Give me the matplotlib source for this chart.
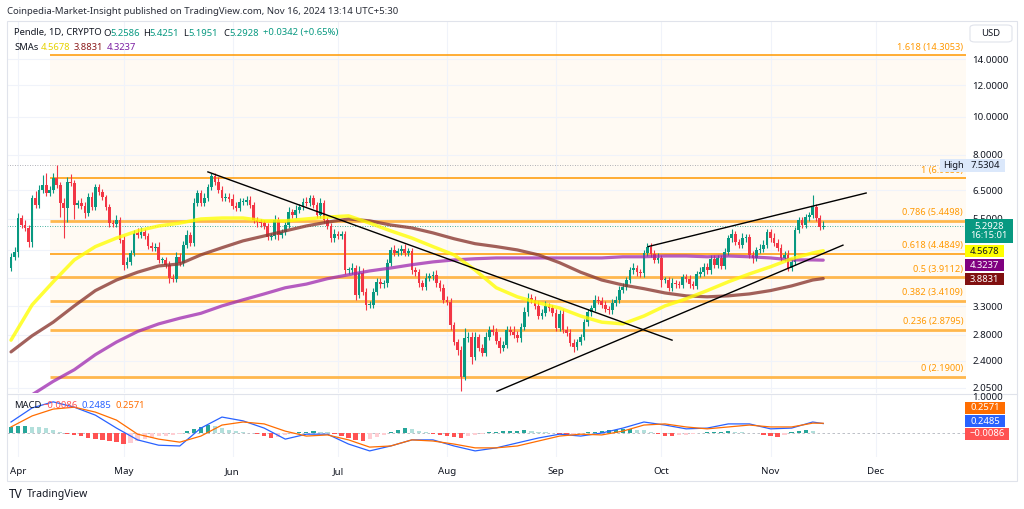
import datetime as dt
import numpy as np
import matplotlib
matplotlib.use("Agg")
import matplotlib.pyplot as plt
from matplotlib.patches import Rectangle, FancyBboxPatch
from matplotlib.ticker import FixedLocator, NullLocator, FixedFormatter

plt.rcParams['font.family'] = ['Noto Sans', 'DejaVu Sans']

W, H = 1024, 509

# ---- data ----
start = dt.date(2024, 3, 30)
first_open = 4.13
closes = [
    4.41, 4.54, 5.53, 5.31, 5.22, 4.81, 6.22, 5.97, 6.52, 6.71,
    6.40, 6.52, 6.99, 6.71, 6.04, 5.87, 6.83, 6.79, 5.97, 6.04,
    5.94, 5.70, 6.26, 5.90, 6.63, 6.44, 6.26, 5.90, 5.37, 5.34,
    5.47, 4.87, 4.21, 4.28, 4.51, 5.07, 5.01, 5.10, 4.98, 4.70,
    4.65, 4.68, 4.33, 4.33, 4.21, 3.90, 3.88, 4.41, 4.26, 4.73,
    5.01, 4.79, 6.04, 6.40, 6.04, 6.22, 6.63, 7.07, 6.83, 6.52,
    6.22, 6.26, 6.19, 5.94, 5.87, 6.08, 6.08, 6.15, 5.97, 5.47,
    5.40, 5.37, 5.28, 4.95, 4.98, 5.47, 5.01, 5.10, 5.31, 5.73,
    5.63, 5.80, 5.90, 6.08, 6.04, 6.22, 5.97, 5.63, 6.04, 5.47,
    5.28, 4.92, 5.04, 4.98, 5.04, 4.08, 4.08, 4.13, 3.53, 4.01,
    3.60, 3.33, 3.33, 3.60, 3.81, 3.76, 3.78, 4.26, 4.59, 4.51,
    4.56, 4.62, 4.51, 4.56, 4.08, 4.03, 3.78, 3.70, 3.90, 3.94,
    3.97, 3.78, 3.68, 3.43, 3.39, 2.96, 2.68, 2.56, 2.19, 2.74,
    2.76, 2.46, 2.76, 2.59, 2.52, 2.76, 2.88, 2.85, 2.70, 2.59,
    2.64, 2.88, 2.85, 2.80, 2.74, 2.93, 3.19, 3.47, 3.43, 3.31,
    3.12, 3.18, 3.31, 3.27, 3.18, 2.91, 3.16, 2.88, 2.83, 2.67,
    2.61, 2.68, 2.76, 3.01, 3.19, 3.27, 3.43, 3.41, 3.33, 3.25,
    3.23, 3.37, 3.43, 3.64, 3.70, 3.85, 4.08, 4.13, 4.03, 4.01,
    4.51, 4.68, 4.49, 4.33, 4.38, 3.85, 3.85, 3.68, 3.78, 3.76,
    3.74, 3.92, 3.88, 3.76, 3.72, 3.99, 4.03, 4.16, 4.08, 4.36,
    4.21, 4.38, 4.18, 4.54, 4.92, 5.04, 4.81, 4.73, 4.92, 4.95,
    4.46, 4.38, 4.59, 4.62, 4.73, 5.10, 4.92, 4.79, 4.65, 4.38,
    4.46, 4.13, 4.28, 5.16, 5.47, 5.31, 5.56, 5.63, 5.90, 5.53,
    5.2586, 5.2928,
]
# wick lengths in percent beyond the candle body
wick_hi = [
    2, 3, 3, 2, 3, 2, 2, 4, 3, 6, 7, 2, 3, 8, 2, 3, 3, 5, 2, 2,
    3, 2, 2, 3, 2, 2, 2, 1, 2, 2, 3, 2, 2, 3, 2, 2, 3, 3, 2, 2,
    2, 2, 3, 2, 2, 2, 2, 3, 2, 2, 3, 2, 3, 2, 2, 3, 2, 2, 2, 3,
    2, 2, 2, 3, 2, 2, 2, 2, 2, 2, 2, 2, 2, 2, 2, 3, 2, 2, 2, 3,
    2, 3, 2, 2, 3, 2, 2, 2, 3, 2, 2, 2, 3, 2, 2, 2, 2, 3, 2, 4,
    3, 2, 2, 2, 2, 2, 2, 2, 2, 3, 2, 2, 3, 2, 2, 2, 2, 2, 3, 2,
    2, 3, 2, 2, 2, 2, 2, 2, 2, 6, 3, 3, 3, 2, 2, 3, 2, 3, 2, 2,
    2, 2, 2, 3, 2, 2, 3, 3, 2, 2, 3, 2, 3, 2, 2, 2, 2, 3, 2, 2,
    2, 2, 2, 2, 2, 2, 3, 2, 2, 2, 2, 2, 2, 2, 2, 2, 2, 3, 2, 2,
    2, 2, 2, 2, 3, 2, 2, 2, 3, 2, 2, 2, 2, 2, 2, 2, 3, 2, 2, 2,
    2, 2, 2, 2, 2, 3, 2, 2, 3, 2, 2, 2, 2, 3, 3, 2, 2, 3, 2, 2,
    2, 3, 2, 2, 2, 2, 2, 2, 7, 2, 2, 2.5,
]
wick_lo = [
    2, 2, 3, 2, 2, 3, 3, 2, 2, 2, 2, 2, 2, 2, 8, 16, 8, 2, 8, 2,
    2, 3, 2, 2, 2, 2, 2, 2, 2, 2, 2, 2, 3, 2, 2, 2, 2, 2, 2, 2,
    2, 2, 2, 2, 2, 3, 2, 2, 2, 2, 2, 2, 2, 2, 2, 2, 2, 2, 2, 2,
    2, 2, 2, 2, 2, 2, 2, 2, 2, 2, 3, 2, 2, 2, 2, 2, 3, 2, 2, 2,
    2, 2, 2, 2, 2, 2, 2, 2, 2, 2, 2, 2, 2, 2, 2, 2, 2, 2, 3, 2,
    2, 3, 2, 2, 2, 2, 2, 2, 2, 2, 2, 2, 2, 2, 2, 2, 2, 2, 2, 2,
    2, 2, 2, 2, 2, 3, 2, 3, 8, 2, 2, 4, 2, 2, 2, 2, 2, 2, 2, 3,
    2, 2, 2, 2, 2, 2, 2, 2, 2, 2, 2, 2, 2, 2, 2, 2, 2, 2, 2, 2,
    3, 2, 2, 2, 2, 2, 2, 2, 2, 2, 2, 2, 2, 2, 2, 2, 2, 2, 2, 2,
    2, 2, 2, 2, 2, 4, 2, 2, 2, 2, 2, 2, 2, 2, 2, 2, 2, 2, 2, 2,
    2, 2, 2, 2, 2, 2, 2, 2, 2, 2, 2, 3, 2, 2, 2, 2, 2, 2, 2, 2,
    2, 2, 2, 2, 2, 2, 2, 2, 2, 2, 2, 1.2,
]

# moving averages, every 6th day
sma_days = list(range(0, 229, 6)) + [231]
sma_yellow = [2.71, 3.33, 3.81, 4.33, 4.68, 4.92, 5.13, 5.28, 5.37, 5.50,
              5.53, 5.53, 5.44, 5.44, 5.50, 5.56, 5.60, 5.37, 5.13, 4.92,
              4.68, 4.46, 4.08, 3.68, 3.49, 3.37, 3.27, 3.12, 3.01, 2.98,
              3.12, 3.31, 3.45, 3.62, 3.81, 3.99, 4.16, 4.36, 4.51, 4.5678]
sma_brown = [2.53, 2.78, 3.01, 3.31, 3.62, 3.85, 4.03, 4.18, 4.23, 4.46,
             4.65, 4.84, 4.98, 5.13, 5.28, 5.40, 5.50, 5.44, 5.31, 5.22,
             5.07, 4.90, 4.76, 4.68, 4.59, 4.46, 4.26, 4.03, 3.85, 3.74,
             3.66, 3.57, 3.51, 3.49, 3.51, 3.55, 3.62, 3.72, 3.85, 3.8831]
sma_purple = [1.84, 1.97, 2.13, 2.28, 2.49, 2.68, 2.85, 2.98, 3.08, 3.17,
              3.31, 3.43, 3.55, 3.68, 3.76, 3.88, 3.97, 4.06, 4.13, 4.21,
              4.28, 4.33, 4.36, 4.38, 4.38, 4.38, 4.38, 4.38, 4.38, 4.41,
              4.41, 4.43, 4.43, 4.41, 4.43, 4.41, 4.38, 4.33, 4.33, 4.3237]

macd_line = [0.29, 0.66, 0.82, 0.68, 0.47, 0.13, -0.18, -0.32, -0.34, 0.13,
             0.42, 0.32, 0.13, -0.16, -0.03, -0.03, -0.29, -0.47, -0.34, -0.18,
             -0.18, -0.34, -0.47, -0.39, -0.26, -0.13, -0.03, -0.08, 0.0, 0.13,
             0.29, 0.21, 0.11, 0.13, 0.24, 0.24, 0.11, 0.13, 0.29, 0.2485]
signal_line = [0.16, 0.45, 0.63, 0.68, 0.55, 0.34, -0.03, -0.16, -0.24, -0.08,
               0.21, 0.29, 0.24, 0.05, -0.08, -0.05, -0.18, -0.37, -0.34, -0.18,
               -0.21, -0.29, -0.39, -0.39, -0.34, -0.21, -0.08, -0.03, -0.05, 0.05,
               0.21, 0.24, 0.16, 0.11, 0.16, 0.21, 0.16, 0.16, 0.26, 0.2571]
hist_days = list(range(0, 230, 2)) + [231]
macd_hist = [0.15, 0.18, 0.18, 0.17, 0.16, 0.12, 0.07, 0.03, -0.02, -0.05,
             -0.09, -0.12, -0.15, -0.18, -0.20, -0.24, -0.28, -0.25, -0.20, -0.16,
             -0.12, -0.09, -0.07, -0.05, -0.02, 0.05, 0.10, 0.15, 0.20, 0.18,
             0.13, 0.09, 0.05, 0.03, 0.01, -0.03, -0.07, -0.12, -0.10, -0.06,
             -0.03, 0.02, 0.04, 0.05, 0.04, 0.02, -0.03, -0.08, -0.13, -0.18,
             -0.20, -0.16, -0.10, -0.04, 0.03, 0.08, 0.12, 0.10, 0.06, 0.02,
             -0.02, -0.05, -0.08, -0.10, -0.13, -0.08, -0.05, -0.02, 0.02, 0.04,
             0.05, 0.05, 0.06, 0.07, 0.06, 0.04, 0.03, 0.01, -0.02, -0.04,
             -0.03, -0.01, 0.02, 0.04, 0.06, 0.08, 0.09, 0.10, 0.10, 0.09,
             0.07, 0.03, -0.03, -0.07, -0.08, -0.06, -0.04, -0.02, 0.01, 0.02,
             0.03, 0.04, 0.05, 0.04, 0.02, 0.01, -0.01, -0.04, -0.08, -0.10,
             -0.05, 0.02, 0.06, 0.08, 0.05, -0.0086]

fib_ratios = [1.618, 1, 0.786, 0.618, 0.5, 0.382, 0.236, 0]
fib_prices = [14.3053, 6.9850, 5.4498, 4.4849, 3.9112, 3.4109, 2.8795, 2.1900]
fib_start = 11

# trendlines: (day, price) pairs
trend_lines = [((56.0, 7.24), (188.0, 2.71)),
               ((138.2, 2.01), (236.6, 4.72)),
               ((181.2, 4.68), (243.2, 6.40))]

price_ticks = [14.0, 12.0, 10.0, 8.0, 6.5, 5.5, 4.6, 3.9, 3.3, 2.8, 2.4, 2.05]
hidden_ticks = [4.6, 3.9]   # covered by the value labels in the original
month_names = ['Apr', 'May', 'Jun', 'Jul', 'Aug', 'Sep', 'Oct', 'Nov', 'Dec']
month_days = [(dt.date(2024, m, 1) - start).days for m in range(4, 13)]

last_price = 5.2928
period_high = 7.5304

# ---- style ----
up_col = '#089981'
dn_col = '#f23645'
txt_col = '#131722'
grid_col = '#f0f3fa'
fib_dark = '#ff9800'
fib_light = '#ffb74d'

fig = plt.figure(figsize=(W / 100, H / 100), dpi=100)
fig.patch.set_facecolor('white')


def fx(px):
    return px / W


def fy(py):
    return 1 - py / H


ax = fig.add_axes([fx(7), fy(393), (966 - 7) / W, (393 - 22) / H])
axm = fig.add_axes([fx(7), fy(457), (966 - 7) / W, (457 - 395) / H], sharex=ax)
xmin, xmax = -1.14, 271.6

# fib zones and levels
for k in range(len(fib_prices) - 1):
    ax.fill_between([fib_start, xmax], fib_prices[k + 1], fib_prices[k],
                    color='#fffaf3', lw=0, zorder=0)
for r, p in zip(fib_ratios, fib_prices):
    thin = r in (1.618, 1, 0.618)
    ax.plot([fib_start, xmax], [p, p], color=fib_dark if thin else fib_light,
            lw=1.1 if thin else 2.0, zorder=1, solid_capstyle='butt')
    ax.annotate('{:g} ({:.4f})'.format(r, p), xy=(1, p),
                xycoords=('axes fraction', 'data'), xytext=(-2, 2.5),
                textcoords='offset points', ha='right', va='bottom',
                fontsize=6.6, color=fib_dark, zorder=4)

# grid
for d in month_days:
    ax.axvline(d, color=grid_col, lw=0.8, zorder=0.5)
    axm.axvline(d, color=grid_col, lw=0.8, zorder=0.5)
for t in price_ticks:
    ax.axhline(t, color=grid_col, lw=0.8, zorder=0.5)

ax.axhline(period_high, color='#9598a1', lw=0.6, ls=(0, (1, 2)), zorder=1.5)
ax.axhline(last_price, color=up_col, lw=0.6, ls=(0, (1, 2)), zorder=1.5)

# candles
n = len(closes)
opens = np.array([first_open] + closes[:-1])
cl = np.array(closes)
top = np.maximum(opens, cl)
bot = np.minimum(opens, cl)
hi = top * (1 + np.array(wick_hi) / 100)
lo = bot * (1 - np.array(wick_lo) / 100)
cols = [up_col if c >= o else dn_col for o, c in zip(opens, cl)]
x = np.arange(n)
ax.vlines(x, lo, hi, colors=cols, lw=0.8, zorder=3)
ax.bar(x, np.maximum(top - bot, top * 0.004), bottom=bot, width=0.76,
       color=cols, lw=0, zorder=3)

# SMAs
ax.plot(sma_days, sma_purple, color='#9c27b0', lw=2.3, alpha=0.75, zorder=4,
        solid_capstyle='round')
ax.plot(sma_days, sma_brown, color='#8b3a33', lw=2.3, alpha=0.8, zorder=4,
        solid_capstyle='round')
ax.plot(sma_days, sma_yellow, color='#ffff00', lw=2.5, alpha=0.78, zorder=4,
        solid_capstyle='round')

for (d0, p0), (d1, p1) in trend_lines:
    ax.plot([d0, d1], [p0, p1], color='black', lw=1.0, zorder=5)

ax.set_yscale('log')
ax.set_ylim(1.99, 17.38)
ax.set_xlim(xmin, xmax)
ax.yaxis.set_major_locator(FixedLocator(price_ticks))
ax.yaxis.set_major_formatter(FixedFormatter(
    ['' if t in hidden_ticks else '{:.4f}'.format(t) for t in price_ticks]))
ax.yaxis.set_minor_locator(NullLocator())
ax.yaxis.tick_right()
ax.tick_params(axis='y', length=0, pad=4.5, labelsize=7, labelcolor=txt_col)
ax.tick_params(axis='x', length=0, labelbottom=False)
for s in ax.spines.values():
    s.set_visible(False)

# MACD pane
hcols = []
prev = 0
for h in macd_hist:
    if h >= 0:
        hcols.append('#26a69a' if h >= prev else '#b2dfdb')
    else:
        hcols.append('#ff5252' if h <= prev else '#ffcdd2')
    prev = h
axm.bar(hist_days, macd_hist, width=1.2, color=hcols, lw=0, zorder=2)
axm.axhline(0, color='#b2b5be', lw=0.6, ls=(0, (3, 3)), zorder=1)
axm.plot(sma_days, macd_line, color='#2962ff', lw=0.9, zorder=3)
axm.plot(sma_days, signal_line, color='#ff6d00', lw=0.9, zorder=3)
axm.set_ylim(-0.63, 1.0)
axm.set_yticks([])
axm.set_xticks(month_days)
axm.set_xticklabels(month_names)
axm.tick_params(axis='x', length=0, pad=7, labelsize=7, labelcolor=txt_col)
for s in axm.spines.values():
    s.set_visible(False)
axm.set_xlim(xmin, xmax)

# frame and separators
fig.add_artist(Rectangle((fx(7), fy(481)), (1017 - 7) / W, (481 - 21) / H,
                         transform=fig.transFigure, fill=False, ec='#e0e3eb', lw=0.8))
fig.add_artist(plt.Line2D([fx(7), fx(1017)], [fy(394), fy(394)],
                          transform=fig.transFigure, color='#e0e3eb', lw=0.8))


def fig_box(x0, y0, x1, y1, fc, text, tc, fs=6.8):
    fig.add_artist(Rectangle((fx(x0), fy(y1)), (x1 - x0) / W, (y1 - y0) / H,
                             transform=fig.transFigure, fc=fc, ec='none', zorder=5))
    fig.text(fx((x0 + x1) / 2), fy((y0 + y1) / 2), text, ha='center', va='center',
             color=tc, fontsize=fs, zorder=6, linespacing=1.1)


fig.add_artist(FancyBboxPatch((fx(970), fy(42)), 42 / W, 17 / H,
                              boxstyle='round,pad=0,rounding_size=0.005',
                              transform=fig.transFigure, fc='white', ec='#e0e3eb',
                              lw=0.8, zorder=5))
fig.text(fx(991), fy(33.5), 'USD', ha='center', va='center', fontsize=6.8,
         color=txt_col, zorder=6)

fig_box(940, 159, 966, 172, '#dbe8fb', 'High', txt_col)
fig_box(966, 159, 1005, 172, '#dbe8fb', '7.5304', txt_col)
fig_box(965, 219, 1013, 243, up_col, '5.2928\n16:15:01', 'white')
fig_box(965, 245, 1004, 257, '#ffff00', '4.5678', txt_col)
fig_box(965, 259, 1004, 271, '#800080', '4.3237', 'white')
fig_box(965, 273, 1004, 285, '#801010', '3.8831', 'white')
fig_box(965, 402, 1005, 414, '#ff6d00', '0.2571', 'white')
fig_box(965, 415, 1005, 427, '#2962ff', '0.2485', 'white')
fig_box(965, 428, 1009, 440, '#ff5252', '\u22120.0086', 'white')
fig.text(fx(972), fy(397), '1.0000', ha='left', va='center', fontsize=7,
         color=txt_col)


def put(px, py, s, color=txt_col, fs=6.8, **kw):
    fig.text(fx(px), fy(py), s, ha='left', va='center', color=color,
             fontsize=fs, **kw)


put(7, 11, 'Coinpedia-Market-Insight published on TradingView.com, Nov 16, 2024 13:14 UTC+5:30',
    color='#2a2e39', fs=6.9)
put(14, 33, 'Pendle, 1D, CRYPTO')
put(103, 33, 'O')
put(110, 33, '5.2586', up_col)
put(143, 33, 'H')
put(149, 33, '5.4251', up_col)
put(183, 33, 'L')
put(188, 33, '5.1951', up_col)
put(223, 33, 'C')
put(229, 33, '5.2928', up_col)
put(263, 33, '+0.0342 (+0.65%)', up_col)
put(14, 47, 'SMAs')
put(41, 47, '4.5678', '#e6d200')
put(74, 47, '3.8831', '#8b1a1a')
put(107, 47, '4.3237', '#7b1fa2')
put(14, 405, 'MACD')
put(43, 405, '\u22120.0086', '#ff5252')
put(82, 405, '0.2485', '#2962ff')
put(115, 405, '0.2571', '#ff6d00')

put(9, 495, 'TV', fs=8.5, fontweight='bold')
put(27, 495, 'TradingView', fs=7.5)

fig.savefig('out.png', dpi=100)
